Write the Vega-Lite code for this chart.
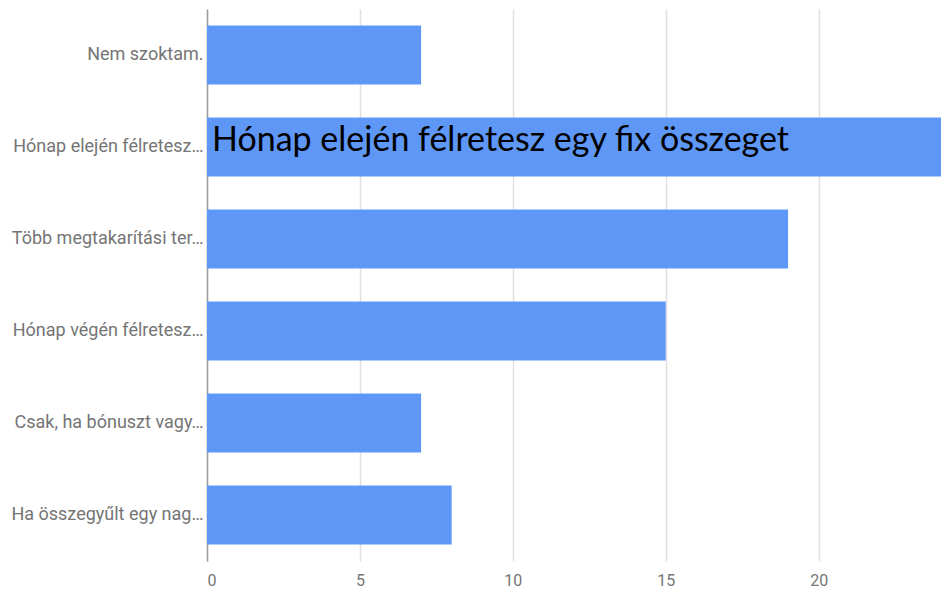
{
  "$schema": "https://vega.github.io/schema/vega-lite/v6.json",
  "width": 734,
  "height": 552,
  "autosize": {"type": "none"},
  "padding": {"left": 207, "top": 9, "right": 0, "bottom": 28},
  "background": "white",
  "config": {"view": {"stroke": null}, "font": "Roboto"},
  "data": {
    "values": [
      {"label": "Nem szoktam.", "value": 7, "note": ""},
      {"label": "Hónap elején félretesz…", "value": 30, "note": "Hónap elején félretesz egy fix összeget"},
      {"label": "Több megtakarítási ter…", "value": 19, "note": ""},
      {"label": "Hónap végén félretesz…", "value": 15, "note": ""},
      {"label": "Csak, ha bónuszt vagy…", "value": 7, "note": ""},
      {"label": "Ha összegyűlt egy nag…", "value": 8, "note": ""}
    ]
  },
  "encoding": {
    "y": {
      "field": "label",
      "type": "nominal",
      "sort": null,
      "scale": {"paddingInner": 0.36, "paddingOuter": 0.18},
      "axis": {
        "title": null,
        "domainColor": "#9e9e9e",
        "domainWidth": 1.5,
        "ticks": false,
        "labelColor": "#757575",
        "labelFontSize": 18,
        "labelPadding": 4,
        "labelLimit": 300
      }
    }
  },
  "layer": [
    {
      "mark": {"type": "bar", "color": "#5e97f6", "clip": true},
      "encoding": {
        "x": {
          "field": "value",
          "type": "quantitative",
          "scale": {"domain": [0, 24], "nice": false},
          "axis": {
            "title": null,
            "values": [0, 5, 10, 15, 20],
            "domain": false,
            "ticks": true,
            "tickSize": 0,
            "gridColor": "#e0e0e0",
            "gridWidth": 1.5,
            "labelColor": "#757575",
            "labelFontSize": 16,
            "labelPadding": 11,
            "labelFont": "Roboto"
          }
        }
      }
    },
    {
      "transform": [{"filter": "datum.note != ''"}],
      "mark": {"type": "text", "align": "left", "baseline": "middle", "dx": 5, "dy": -6, "fontSize": 34, "font": "Lato", "color": "black"},
      "encoding": {
        "x": {"datum": 0, "type": "quantitative"},
        "text": {"field": "note"}
      }
    }
  ]
}
